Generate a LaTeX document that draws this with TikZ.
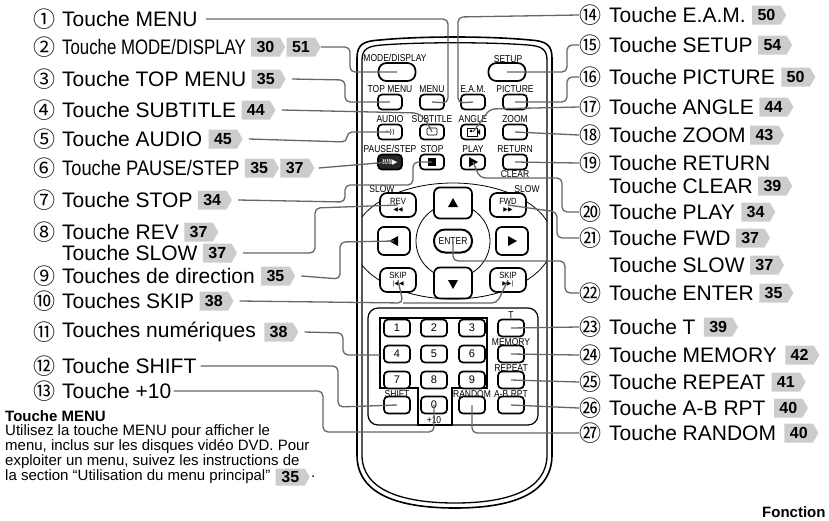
\documentclass[tikz,border=0pt]{standalone}
\usepackage{fontspec}
\setmainfont{Liberation Sans}
\newfontfamily\cjk{Noto Sans CJK JP}
\newfontfamily\symf{DejaVu Sans}
\usetikzlibrary{shapes.symbols,positioning}
\newcommand\bl[1]{\scalebox{0.85}[1]{#1}}
\begin{document}
\begin{tikzpicture}[x=1pt,y=-1pt,
  lab/.style={anchor=west,inner sep=0pt,font=\fontsize{21}{21}\selectfont},
  cn/.style={inner sep=0pt,font=\cjk\fontsize{22}{22}\selectfont},
  badge/.style={signal,signal to=east,signal pointer angle=120,fill=black!20,inner xsep=3pt,inner ysep=0pt,minimum height=19pt,minimum width=34pt,font=\bfseries\fontsize{16}{16}\selectfont},
  lead/.style={draw=black!60,line width=1.3pt,rounded corners=5pt},
  btn/.style={draw,line width=1.7pt,rounded corners=4pt,fill=white,minimum width=24pt,minimum height=15pt,inner sep=0pt},
  bbtn/.style={btn,rounded corners=8pt,minimum width=37pt,minimum height=18pt},
  nbtn/.style={btn,minimum width=26pt,minimum height=17pt,font=\fontsize{11}{11}\selectfont},
  bt/.style={inner sep=0pt,font=\fontsize{10}{10}\selectfont},
  body/.style={anchor=west,inner sep=0pt,font=\fontsize{15}{15}\selectfont}]
\useasboundingbox (0,0) rectangle (829,520);
% ---------- remote body ----------
\draw[line width=1.6pt] (357,455) -- (357,58) .. controls (357,44) and (364,41) .. (380,40) .. controls (420,36) and (490,36) .. (530,40) .. controls (545,41) and (552,44) .. (552,58) -- (552,455) .. controls (552,495) and (510,508) .. (455,508) .. controls (400,508) and (357,495) .. (357,455) -- cycle;
\draw[line width=1.3pt] (362,455) -- (362,60) .. controls (362,49) and (368,46) .. (382,45) .. controls (420,42) and (490,42) .. (528,45) .. controls (541,46) and (547,49) .. (547,60) -- (547,455) .. controls (547,490) and (508,503) .. (455,503) .. controls (402,503) and (362,490) .. (362,455) -- cycle;
\begin{scope}
\clip (362,150) rectangle (547,320);
\draw[line width=0.8pt] (453,241) ellipse[x radius=100,y radius=58];
\end{scope}
% ---------- top buttons ----------
\node[bbtn] (bMode) at (397,72) {};
\node[bt] at (395,58) {\bl{MODE/DISPLAY}};
\node[bbtn] (bSetup) at (507,72) {};
\node[bt] at (508,59) {\bl{SETUP}};
\node[btn] (bTop) at (390,102) {}; \node[bt] at (390,89) {\bl{TOP MENU}};
\node[btn] (bMenu) at (432,102) {}; \node[bt] at (432,89) {\bl{MENU}};
\node[btn] (bEam) at (473,102) {}; \node[bt] at (473,89) {\bl{E.A.M.}};
\node[btn] (bPic) at (515,102) {}; \node[bt] at (515,89) {\bl{PICTURE}};
\node[btn,font=\symf\fontsize{7}{7}\selectfont] (bAudio) at (390,132) {◦))}; \node[bt] at (390,119) {\bl{AUDIO}};
\node[btn] (bSub) at (432,132) {}; \node[bt] at (432,119) {\bl{SUBTITLE}};
\draw[line width=0.6pt,rounded corners=1pt] (427,128) rectangle (437,135);
\node[btn] (bAngle) at (473,132) {}; \node[bt] at (473,119) {\bl{ANGLE}};
\draw[line width=0.8pt] (467,128) rectangle (477,136); \fill (471,131) circle (1.5); \fill (480,129) -- (480,135) -- (477,132) -- cycle;
\node[btn] (bZoom) at (515,132) {}; \node[bt] at (515,119) {\bl{ZOOM}};
\node[btn,fill=black!85,text=white,font=\bfseries\fontsize{7}{7}\selectfont] (bPause) at (390,162) {II/II\symf▶}; \node[bt] at (390,149) {\bl{PAUSE/STEP}};
\node[btn] (bStop) at (432,162) {}; \node[bt] at (432,149) {\bl{STOP}};
\fill (428,158) rectangle (436,166);
\node[btn] (bPlay) at (473,162) {}; \node[bt] at (473,149) {\bl{PLAY}};
\fill (469,157) -- (469,167) -- (478,162) -- cycle;
\node[btn] (bRet) at (515,162) {}; \node[bt] at (515,149) {\bl{RETURN}};
\node[bt] at (515,174) {\bl{CLEAR}};
\node[bt] at (382,189) {\bl{SLOW}};
\node[bt] at (527,189) {\bl{SLOW}};
% ---------- navigation ----------
\draw[line width=0.8pt] (453,241) circle (37);
\node[btn,minimum width=38pt,minimum height=31pt,rounded corners=6pt] (bUp) at (453,203) {};
\fill (448,207) -- (458,207) -- (453,198) -- cycle;
\node[btn,minimum width=38pt,minimum height=31pt,rounded corners=6pt] (bDown) at (453,283) {};
\fill (448,280) -- (458,280) -- (453,289) -- cycle;
\node[btn,minimum width=32pt,minimum height=28pt,rounded corners=6pt] (bLeft) at (394,241) {};
\fill (398,236) -- (398,246) -- (389,241) -- cycle;
\node[btn,minimum width=32pt,minimum height=28pt,rounded corners=6pt] (bRight) at (512,241) {};
\fill (508,236) -- (508,246) -- (517,241) -- cycle;
\node[btn,line width=2pt,minimum width=38pt,minimum height=23pt,rounded corners=11pt,font=\fontsize{10}{10}\selectfont] (bEnter) at (453,241) {\bl{ENTER}};
\node[btn,minimum width=36pt,minimum height=24pt,rounded corners=7pt,align=center,font=\fontsize{9}{8}\selectfont] (bRev) at (398,205) {\bl{REV}\\[-1pt]{\symf\fontsize{6}{6}\selectfont ◀◀}};
\node[btn,minimum width=36pt,minimum height=24pt,rounded corners=7pt,align=center,font=\fontsize{9}{8}\selectfont] (bFwd) at (508,205) {\bl{FWD}\\[-1pt]{\symf\fontsize{6}{6}\selectfont ▶▶}};
\node[btn,minimum width=36pt,minimum height=24pt,rounded corners=7pt,align=center,font=\fontsize{9}{8}\selectfont] (bSkipL) at (398,280) {\bl{SKIP}\\[-1pt]{\symf\fontsize{6}{6}\selectfont |◀◀}};
\node[btn,minimum width=36pt,minimum height=24pt,rounded corners=7pt,align=center,font=\fontsize{9}{8}\selectfont] (bSkipR) at (508,280) {\bl{SKIP}\\[-1pt]{\symf\fontsize{6}{6}\selectfont ▶▶|}};
% ---------- keypad ----------
\draw[line width=1.2pt,rounded corners=10pt] (368,308) rectangle (538,425);
\draw[line width=1.8pt] (380,318) -- (487,318) -- (487,388) -- (452,388) -- (452,425) -- (418,425) -- (418,388) -- (380,388) -- cycle;
\foreach \n/\x/\y in {1/397/328,2/434/328,3/472/328,4/397/354,5/434/354,6/472/354,7/397/380,8/434/380,9/472/380}
  \node[nbtn] (k\n) at (\x,\y) {\n};
\node[nbtn] (k0) at (434,405) {0};
\node[bt] at (434,420) {\bl{+10}};
\node[nbtn] (bShift) at (397,405) {}; \node[bt] at (397,394) {\bl{SHIFT}};
\node[nbtn] (bRandom) at (472,405) {}; \node[bt] at (472,394) {\bl{RANDOM}};
\node[nbtn] (bT) at (511,328) {}; \node[bt] at (511,315) {\bl{T}};
\node[nbtn] (bMem) at (511,354) {}; \node[bt] at (511,342) {\bl{MEMORY}};
\node[nbtn] (bRep) at (511,380) {}; \node[bt] at (511,368) {\bl{REPEAT}};
\node[nbtn] (bAB) at (511,405) {}; \node[bt] at (511,394) {\bl{A-B RPT}};
% ---------- left labels ----------
\node[cn] (c1) at (44,19) {①}; \node[lab] (l1) at (62,19) {Touche MENU};
\node[cn] (c2) at (44,47) {②}; \node[lab] (l2) at (62,47) {\scalebox{0.8}[1]{Touche MODE/DISPLAY}};
\node[badge,right=5pt of l2] (b2a) {30}; \node[badge,right=1pt of b2a] (b2b) {51};
\node[cn] (c3) at (44,79) {③}; \node[lab] (l3) at (62,79) {Touche TOP MENU};
\node[badge,right=5pt of l3] (b3) {35};
\node[cn] (c4) at (44,110) {④}; \node[lab] (l4) at (62,110) {Touche SUBTITLE};
\node[badge,right=5pt of l4] (b4) {44};
\node[cn] (c5) at (44,139) {⑤}; \node[lab] (l5) at (62,139) {Touche AUDIO};
\node[badge,right=6pt of l5] (b5) {45};
\node[cn] (c6) at (44,168) {⑥}; \node[lab] (l6) at (62,168) {\scalebox{0.87}[1]{Touche PAUSE/STEP}};
\node[badge,right=5pt of l6] (b6a) {35}; \node[badge,right=1pt of b6a] (b6b) {37};
\node[cn] (c7) at (44,200) {⑦}; \node[lab] (l7) at (62,200) {Touche STOP};
\node[badge,right=5pt of l7] (b7) {34};
\node[cn] (c8) at (44,232) {⑧}; \node[lab] (l8) at (62,232) {Touche REV};
\node[badge,right=5pt of l8] (b8) {37};
\node[lab] (l8b) at (62,253) {Touche SLOW};
\node[badge,right=5pt of l8b] (b8b) {37};
\node[cn] (c9) at (44,276) {⑨}; \node[lab] (l9) at (62,276) {Touches de direction};
\node[badge,right=6pt of l9] (b9) {35};
\node[cn] (c10) at (44,301) {⑩}; \node[lab] (l10) at (62,301) {Touches SKIP};
\node[badge,right=5pt of l10] (b10) {38};
\node[cn] (c11) at (44,332) {⑪}; \node[lab] (l11) at (62,332) {Touches numériques};
\node[badge,right=8pt of l11] (b11) {38};
\node[cn] (c12) at (44,366) {⑫}; \node[lab] (l12) at (62,366) {Touche SHIFT};
\node[cn] (c13) at (44,391) {⑬}; \node[lab] (l13) at (62,391) {Touche +10};
% ---------- right labels ----------
\node[cn] (c14) at (590,15) {⑭}; \node[lab] (r14) at (609,15) {Touche E.A.M.};
\node[badge,right=6pt of r14] (s14) {50};
\node[cn] (c15) at (590,45) {⑮}; \node[lab] (r15) at (609,45) {Touche SETUP};
\node[badge,right=5pt of r15] (s15) {54};
\node[cn] (c16) at (590,77) {⑯}; \node[lab] (r16) at (609,77) {Touche PICTURE};
\node[badge,right=6pt of r16] (s16) {50};
\node[cn] (c17) at (590,107) {⑰}; \node[lab] (r17) at (609,107) {Touche ANGLE};
\node[badge,right=5pt of r17] (s17) {44};
\node[cn] (c18) at (590,135) {⑱}; \node[lab] (r18) at (609,135) {Touche ZOOM};
\node[badge,right=4pt of r18] (s18) {43};
\node[cn] (c19) at (590,163) {⑲}; \node[lab] (r19) at (609,163) {Touche RETURN};
\node[lab] (r19b) at (609,186) {Touche CLEAR};
\node[badge,right=5pt of r19b] (s19) {39};
\node[cn] (c20) at (590,212) {⑳}; \node[lab] (r20) at (609,212) {Touche PLAY};
\node[badge,right=6pt of r20] (s20) {34};
\node[cn] (c21) at (590,238) {㉑}; \node[lab] (r21) at (609,238) {Touche FWD};
\node[badge,right=5pt of r21] (s21) {37};
\node[lab] (r21b) at (609,265) {Touche SLOW};
\node[badge,right=5pt of r21b] (s21b) {37};
\node[cn] (c22) at (590,293) {㉒}; \node[lab] (r22) at (609,293) {Touche ENTER};
\node[badge,right=5pt of r22] (s22) {35};
\node[cn] (c23) at (590,327) {㉓}; \node[lab] (r23) at (609,327) {Touche T};
\node[badge,right=8pt of r23] (s23) {39};
\node[cn] (c24) at (590,355) {㉔}; \node[lab] (r24) at (609,355) {Touche MEMORY};
\node[badge,right=8pt of r24] (s24) {42};
\node[cn] (c25) at (590,382) {㉕}; \node[lab] (r25) at (609,382) {Touche REPEAT};
\node[badge,right=6pt of r25] (s25) {41};
\node[cn] (c26) at (590,408) {㉖}; \node[lab] (r26) at (609,408) {Touche A-B RPT};
\node[badge,right=8pt of r26] (s26) {40};
\node[cn] (c27) at (590,433) {㉗}; \node[lab] (r27) at (609,433) {Touche RANDOM};
\node[badge,right=8pt of r27] (s27) {40};
% ---------- leaders left ----------
\draw[lead] ([xshift=8pt]l1.east) -- (448,19) -- (448,103) -- (bMenu.center);
\draw[lead] (b2b.east) -- (350,47) -- (350,72) -- (bMode.center);
\draw[lead] ([xshift=6pt]b3.east) -- (345,80) -- (345,102) -- (bTop.center);
\draw[lead] ([xshift=6pt]b4.east) -- (418,113) -- (426,120) -- (bSub.center);
\draw[lead] ([xshift=6pt]b5.east) -- (347,142) -- (347,132) -- (bAudio.center);
\draw[lead] ([xshift=4pt]b6b.east) -- (bPause.center);
\draw[lead] ([xshift=6pt]b7.east) -- (345,202) -- (345,185) -- (413,185) -- (413,162) -- (bStop.center);
\draw[lead] ([xshift=6pt]b8b.east) -- (315,253) -- (315,208) -- (bRev.center);
\draw[lead] ([xshift=6pt]b9.east) -- (340,279) -- (340,242) -- (bLeft.center);
\coordinate (k10) at (403,303);
\draw[lead] ([xshift=6pt]b10.east) -- (k10) -- (bSkipL.center);
\draw[lead] (k10) -- (497,303) -- (bSkipR.center);
\draw[lead] ([xshift=6pt]b11.east) -- (343,333) -- (343,355) -- (380,355);
\draw[lead] ([xshift=4pt]l12.east) -- (338,366) -- (338,407) -- (bShift.center);
\draw[lead] ([xshift=2pt]l13.east) -- (323,391) -- (323,432) -- (434,432) -- (k0.center);
% ---------- leaders right ----------
\draw[lead] (c14.west) -- (458,17) -- (458,103) -- (bEam.center);
\draw[lead] (c15.west) -- (567,45) -- (567,72) -- (bSetup.center);
\draw[lead] (c16.west) -- (567,77) -- (567,102) -- (bPic.center);
\draw[lead] (c17.west) -- (490,109) -- (bAngle.center);
\draw[lead] (c18.west) -- (bZoom.center);
\draw[lead] (c19.west) -- (bRet.center);
\draw[lead] (c20.west) -- (562,212) -- (562,178) -- (480,178) -- (bPlay.center);
\draw[lead] (c21.west) -- (557,238) -- (557,212) -- (bFwd.center);
\draw[lead] (c22.west) -- (565,293) -- (565,261) -- (453,261) -- (bEnter.center);
\draw[lead] (c23.west) -- (bT.center);
\draw[lead] (c24.west) -- (bMem.center);
\draw[lead] (c25.west) -- (bRep.center);
\draw[lead] (c26.west) -- (bAB.center);
\draw[lead] (c27.west) -- (472,433) -- (bRandom.center);
% ---------- bottom text ----------
\node[body,font=\bfseries\fontsize{15}{15}\selectfont] (h) at (5,416) {Touche MENU};
\node[body] (t1) at (5,432) {Utilisez la touche MENU pour afficher le};
\node[body] (t2) at (5,447) {menu, inclus sur les disques vidéo DVD. Pour};
\node[body] (t3) at (5,462) {exploiter un menu, suivez les instructions de};
\node[body] (t4) at (5,477) {la section “Utilisation du menu principal”};
\node[badge,right=5pt of t4,minimum height=17pt] (bt4) {35};
\node[body,right=1pt of bt4] {.};
\node[body,font=\bfseries\fontsize{15}{15}\selectfont] at (762,512) {Fonction};
\end{tikzpicture}
\end{document}
